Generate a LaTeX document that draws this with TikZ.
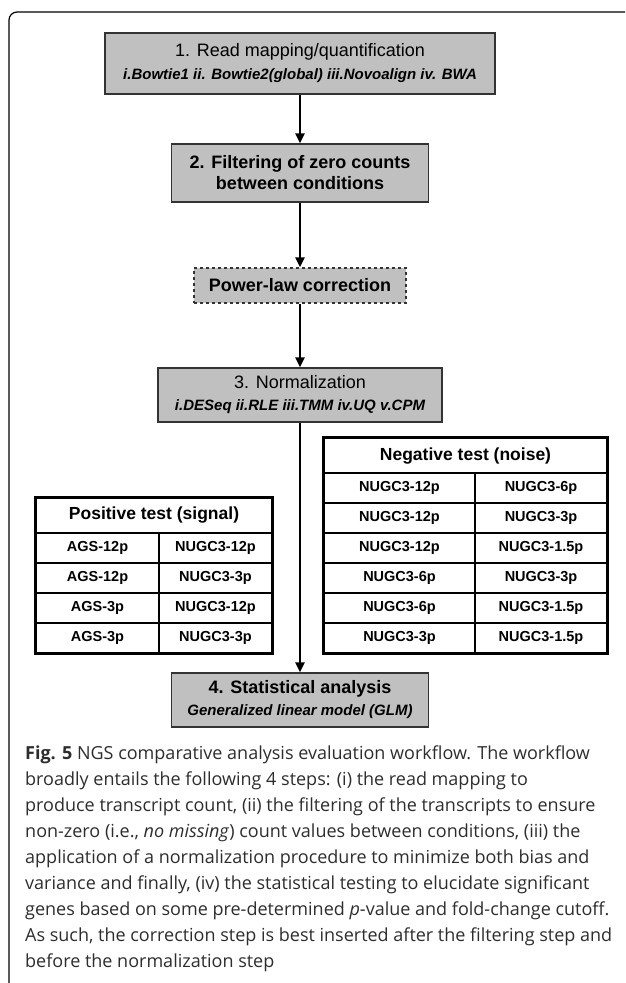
\documentclass[tikz,border=0pt]{standalone}
\usepackage{fontspec}
\setmainfont{Liberation Sans}
\newfontfamily\capfont{Open Sans}
\usetikzlibrary{arrows.meta}

\definecolor{boxgray}{RGB}{192,192,192}
\definecolor{capgray}{RGB}{45,45,45}

\tikzset{
  stepbox/.style={draw=black!80, line width=1.2pt, fill=boxgray, align=center, inner sep=0pt,
    font=\fontsize{18}{20}\selectfont},
  flow/.style={line width=2.4pt, -{Triangle[length=10pt,width=9pt]}},
  cell/.style={draw, line width=1.3pt, minimum height=30pt, inner sep=0pt,
    font=\fontsize{14.5}{16}\selectfont\bfseries},
  headcell/.style={cell, minimum height=35pt, font=\fontsize{17.5}{19}\selectfont\bfseries}
}

\newcommand{\subline}[1]{{\fontsize{15}{17}\selectfont\bfseries\itshape #1}}

\begin{document}
\begin{tikzpicture}[x=1pt,y=-1pt]
  \useasboundingbox (0,0) rectangle (625,983);
  \def\mx{300}  % x of the main flow

  % Draw the frame
  \draw[line width=1.2pt, rounded corners=8pt] (9,983) -- (9,12) -- (625,12);

  % Draw the workflow steps
  \node[stepbox, minimum width=390pt, minimum height=61pt] (read) at (\mx,63.5)
    {1. Read mapping/quantification\\[3pt]
     \subline{i.Bowtie1 ii. Bowtie2(global) iii.Novoalign iv. BWA}};
  \node[stepbox, minimum width=257pt, minimum height=58pt,
    font=\fontsize{18}{21}\selectfont\bfseries] (filter) at (\mx,173)
    {2. Filtering of zero counts\\ between conditions};
  \node[stepbox, dashed, minimum width=212pt, minimum height=35pt,
    font=\fontsize{18}{20}\selectfont\bfseries] (power) at (\mx,285.5)
    {Power-law correction};
  \node[stepbox, minimum width=284pt, minimum height=54pt] (norm) at (\mx,395)
    {3. Normalization\\[2pt]
     \subline{i.DESeq ii.RLE iii.TMM iv.UQ v.CPM}};
  \node[stepbox, minimum width=257pt, minimum height=54pt] (stat) at (\mx,700)
    {\textbf{4. Statistical analysis}\\[2pt]
     \subline{Generalized linear model (GLM)}};

  % Draw the arrows
  \draw[flow] (read) -- (filter);
  \draw[flow] (filter) -- (power);
  \draw[flow] (power) -- (norm);
  \draw[flow] (norm) -- (stat);

  % Positive test table
  \node[headcell, minimum width=236pt] (posHead) at (154,515.5) {Positive test (signal)};
  \foreach \l/\r [count=\i] in {AGS-12p/NUGC3-12p, AGS-12p/NUGC3-3p,
      AGS-3p/NUGC3-12p, AGS-3p/NUGC3-3p}{
    \node[cell, minimum width=123pt] (posL\i) at (97.5,{518+30*\i}) {\l};
    \node[cell, minimum width=113pt] (posR\i) at (215.5,{518+30*\i}) {\r};
  }
  \draw[line width=3pt] (posHead.north west) rectangle (posR4.south east);

  % Negative test table
  \node[headcell, minimum width=283pt] (negHead) at (465.5,456) {Negative test (noise)};
  \foreach \l/\r [count=\i] in {NUGC3-12p/NUGC3-6p, NUGC3-12p/NUGC3-3p,
      NUGC3-12p/NUGC3-1.5p, NUGC3-6p/NUGC3-3p, NUGC3-6p/NUGC3-1.5p,
      NUGC3-3p/NUGC3-1.5p}{
    \node[cell, minimum width=151pt] (negL\i) at (399.5,{458+30*\i}) {\l};
    \node[cell, minimum width=132pt] (negR\i) at (541,{458+30*\i}) {\r};
  }
  \draw[line width=3pt] (negHead.north west) rectangle (negR6.south east);

  % Caption
  \node[anchor=north west, align=left, inner sep=0pt, text=capgray,
    font=\capfont\fontsize{18}{26}\selectfont] (caption) at (25,746)
    {\textbf{Fig. 5} NGS comparative analysis evaluation workflow. The workflow\\
     broadly entails the following 4 steps: (i) the read mapping to\\
     produce transcript count, (ii) the filtering of the transcripts to ensure\\
     non-zero (i.e., \textit{no missing}) count values between conditions, (iii) the\\
     application of a normalization procedure to minimize both bias and\\
     variance and finally, (iv) the statistical testing to elucidate significant\\
     genes based on some pre-determined \textit{p}-value and fold-change cutoff.\\
     As such, the correction step is best inserted after the filtering step and\\
     before the normalization step};
\end{tikzpicture}
\end{document}
